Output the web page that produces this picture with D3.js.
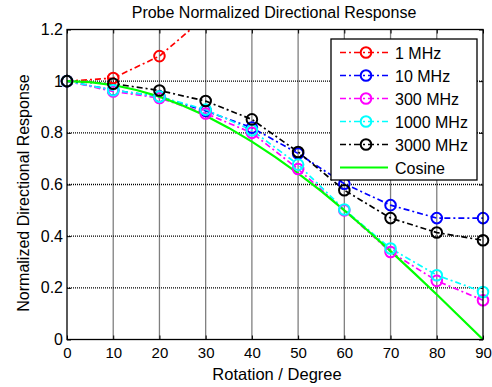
<!DOCTYPE html>
<html><head><meta charset="utf-8">
<script src="https://cdn.jsdelivr.net/npm/d3@7"></script>
<style>
body{margin:0;background:#fff;}
text{font-family:"Liberation Sans",Arial,sans-serif;fill:#000;}
</style></head>
<body><svg id="c" width="492" height="387"></svg>
<script>
const angles = [0,10,20,30,40,50,60,70,80,90];
const mhz1   = [1.0,1.012,1.097,1.25,1.42,1.6,1.78,1.95,2.1,2.2];
const mhz10  = [1.0,0.965,0.94,0.885,0.82,0.72,0.603,0.52,0.47,0.47];
const mhz300 = [1.0,0.96,0.935,0.875,0.80,0.66,0.50,0.339,0.227,0.152];
const mhz1000= [1.0,0.965,0.94,0.89,0.81,0.677,0.503,0.352,0.249,0.184];
const mhz3000= [1.0,0.99,0.964,0.923,0.852,0.726,0.578,0.47,0.414,0.384];
const cosAngles = [0,5,10,15,20,25,30,35,40,45,50,55,60,65,70,75,80,85,90];
const cosVals = [1.0,0.996,0.985,0.966,0.940,0.906,0.866,0.819,0.766,0.707,0.643,0.574,0.5,0.423,0.342,0.259,0.174,0.087,0.0];
const xTicks = [0,10,20,30,40,50,60,70,80,90];
const yTicks = [0,0.2,0.4,0.6,0.8,1,1.2];
const seriesNames = ["1 MHz","10 MHz","300 MHz","1000 MHz","3000 MHz","Cosine"];
const seriesColors = ["#ff0000","#0000ff","#ff00ff","#00ffff","#000000","#00ff00"];

const svg = d3.select("#c");
const L=67,R=483,T=29.5,B=339.5;
const x = d3.scaleLinear().domain([0,90]).range([L,R]);
const y = d3.scaleLinear().domain([0,1.2]).range([B,T]);

// grid
const g = svg.append("g");
g.selectAll(".vg").data(xTicks.slice(1,-1)).enter().append("line")
 .attr("x1",d=>x(d)).attr("x2",d=>x(d)).attr("y1",T).attr("y2",B)
 .attr("stroke","#000").attr("stroke-width",1.3).attr("stroke-dasharray","1,1");
g.selectAll(".hg").data(yTicks.slice(1,-1)).enter().append("line")
 .attr("y1",d=>y(d)).attr("y2",d=>y(d)).attr("x1",L).attr("x2",R)
 .attr("stroke","#000").attr("stroke-width",1.3).attr("stroke-dasharray","1,1");

// axes
const xAxis = d3.axisBottom(x).tickValues(xTicks).tickSize(-4).tickPadding(8).tickFormat(d3.format("d"));
const xg = svg.append("g").attr("transform",`translate(0,${B})`).call(xAxis);
const yAxis = d3.axisLeft(y).tickValues(yTicks).tickSize(-4).tickPadding(4).tickFormat(d=>d===0?"0":d===1?"1":d3.format(".1f")(d));
const yg = svg.append("g").attr("transform",`translate(${L},0)`).call(yAxis);
[xg,yg].forEach(a=>{a.select(".domain").remove();a.selectAll("text").style("font-family","Liberation Sans, Arial, sans-serif");a.selectAll("line").attr("stroke","#000");});
xg.selectAll("text").style("font-size","15px");
yg.selectAll("text").style("font-size","16px");
// top/right ticks
const tg = svg.append("g").attr("transform",`translate(0,${T})`).call(d3.axisTop(x).tickValues(xTicks).tickSize(-4).tickFormat(""));
tg.select(".domain").remove();
const rg = svg.append("g").attr("transform",`translate(${R},0)`).call(d3.axisRight(y).tickValues(yTicks).tickSize(-4).tickFormat(""));
rg.select(".domain").remove();

const defs = svg.append("defs");
defs.append("clipPath").attr("id","clip").append("rect").attr("x",L).attr("y",T).attr("width",R-L).attr("height",B-T);
defs.append("clipPath").attr("id","clip2").append("rect").attr("x",L-8).attr("y",T).attr("width",R-L+16).attr("height",B-T+8);

const plot = svg.append("g").attr("clip-path","url(#clip)");
const line = d3.line().x(d=>x(d[0])).y(d=>y(d[1]));
const dashed = [mhz1,mhz10,mhz300,mhz1000,mhz3000];
dashed.forEach((vals,i)=>{
  const pts = angles.map((a,j)=>[a,vals[j]]);
  plot.append("path").datum(pts).attr("d",line).attr("fill","none")
    .attr("stroke",seriesColors[i]).attr("stroke-width",1.7).attr("stroke-dasharray","6,3,2,3");
});
// cosine
plot.append("path").datum(cosAngles.map((a,j)=>[a,cosVals[j]])).attr("d",line)
  .attr("fill","none").attr("stroke",seriesColors[5]).attr("stroke-width",2.2);
// markers
const mk = svg.append("g").attr("clip-path","url(#clip2)");
dashed.forEach((vals,i)=>{
  mk.selectAll(null).data(angles.map((a,j)=>[a,vals[j]]).filter(d=>d[1]<=1.2)).enter().append("circle")
    .attr("cx",d=>x(d[0])).attr("cy",d=>y(d[1])).attr("r",5.3)
    .attr("fill","none").attr("stroke",seriesColors[i]).attr("stroke-width",2);
});

// frame
svg.append("rect").attr("x",L).attr("y",T).attr("width",R-L).attr("height",B-T)
  .attr("fill","none").attr("stroke","#000").attr("stroke-width",1.3);

// legend
const lg = svg.append("g");
lg.append("rect").attr("x",331).attr("y",39).attr("width",146).attr("height",141)
  .attr("fill","#fff").attr("stroke","#000").attr("stroke-width",1.3);
seriesNames.forEach((n,i)=>{
  const yy = 52.5 + i*23;
  lg.append("line").attr("x1",340).attr("x2",388).attr("y1",yy).attr("y2",yy)
    .attr("stroke",seriesColors[i]).attr("stroke-width",i<5?1.7:2.2)
    .attr("stroke-dasharray",i<5?"6,3,2,3":null);
  if(i<5) lg.append("circle").attr("cx",366).attr("cy",yy).attr("r",5.3).attr("fill","none")
    .attr("stroke",seriesColors[i]).attr("stroke-width",2);
  lg.append("text").attr("x",395).attr("y",yy+6).style("font-size","16px").text(n);
});

// titles
svg.append("text").attr("x",274).attr("y",18).attr("text-anchor","middle").style("font-size","16px")
  .text("Probe Normalized Directional Response");
svg.append("text").attr("x",277).attr("y",380).attr("text-anchor","middle").style("font-size","16.5px")
  .text("Rotation / Degree");
svg.append("text").attr("transform","translate(29,193) rotate(-90)").attr("text-anchor","middle").style("font-size","16px")
  .text("Normalized Directional Response");
</script></body></html>
